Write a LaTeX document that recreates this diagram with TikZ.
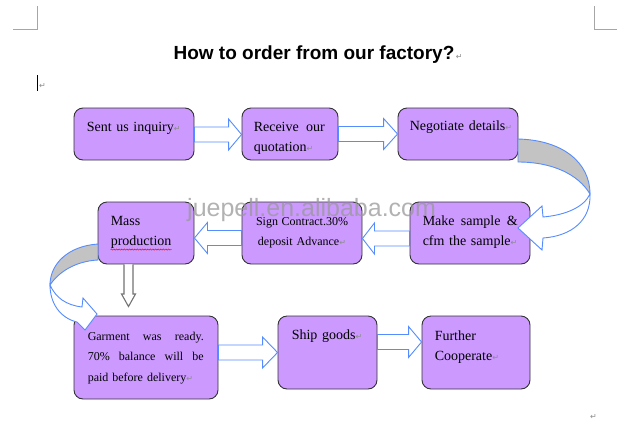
\documentclass[tikz,border=0pt]{standalone}
\usepackage{fontspec}
\setmainfont{Liberation Serif}
\newfontfamily\arialf{Liberation Sans}
\newfontfamily\djv{DejaVu Sans}
\usetikzlibrary{calc,decorations.pathmorphing}
\definecolor{boxfill}{RGB}{204,153,255}
\definecolor{arrblue}{RGB}{85,140,255}
\definecolor{backgray}{RGB}{195,195,195}
\definecolor{markgray}{RGB}{140,140,140}
\newcommand{\pmk}{{\djv\fontsize{8}{8}\selectfont\color{markgray}↵}}
\newcommand{\jline}[2]{\leavevmode\hbox to #1{#2}}
\newcommand{\hblock}[3]{%
  \draw[blockarrow] let \p1=#1, \p2=#2 in
   (\x1,\y1+7.5pt) -- (\x2-#3,\y1+7.5pt) -- (\x2-#3,\y1+15.5pt) -- (\x2,\y1)
   -- (\x2-#3,\y1-15.5pt) -- (\x2-#3,\y1-7.5pt) -- (\x1,\y1-7.5pt) -- cycle;}
\begin{document}
\begin{tikzpicture}[x=1pt,y=-1pt,
  flowbox/.style={draw=black!80, line width=0.9pt, fill=boxfill, rounded corners=9pt, inner sep=0pt},
  blockarrow/.style={draw=arrblue, line width=0.9pt, fill=white, line join=miter},
  curvearrow/.style={draw=arrblue, line width=0.9pt, line join=miter},
  btxt/.style={anchor=base west, inner sep=0pt, font=\fontsize{14}{20}\selectfont, text width=#1, align=left},
  stxt/.style={anchor=base west, inner sep=0pt, font=\fontsize{12}{20.5}\selectfont, text width=#1, align=left},
  cornermark/.style={draw=black!35, line width=0.8pt}]
\useasboundingbox (0,0) rectangle (621,421);
\fill[white] (0,0) rectangle (621,421);

% page corner marks
\draw[cornermark] (13,29) -- (37,29) -- (37,6);
\draw[cornermark] (594,6) -- (594,29) -- (617,29);

% title and cursor
\node[font=\arialf\bfseries\fontsize{19}{22}\selectfont, anchor=base, inner sep=0pt] (title) at (314,59) {How to order from our factory?};
\node[anchor=base west, inner sep=0pt] (tmark) at ($(title.base east)+(1,0)$) {\pmk};
\draw[black, line width=1.4pt] (37.5,75) -- (37.5,91);
\node[anchor=base west, inner sep=0pt] (cmark) at (39,88) {\pmk};

% boxes
\node[flowbox, minimum width=120pt, minimum height=52pt] (b1) at (134,134) {};
\node[flowbox, minimum width=96pt, minimum height=52pt] (b2) at (290,134) {};
\node[flowbox, minimum width=120pt, minimum height=52pt] (b3) at (458,134) {};
\node[flowbox, minimum width=120pt, minimum height=62pt] (b4) at (470,233) {};
\node[flowbox, minimum width=120pt, minimum height=62pt] (b5) at (302,233) {};
\node[flowbox, minimum width=96pt, minimum height=62pt] (b6) at (146,233) {};
\node[flowbox, minimum width=144pt, minimum height=83pt] (b7) at (146,357.5) {};
\node[flowbox, minimum width=99pt, minimum height=73pt] (b8) at (327.5,352.5) {};
\node[flowbox, minimum width=108pt, minimum height=73pt] (b9) at (476,352.5) {};

% straight block arrows
\hblock{($(b1.east)+(0,0.5)$)}{(b2.west)}{13pt}
\hblock{(b2.east)}{(b3.west)}{14pt}
\hblock{($(b4.west)+(0,5.5)$)}{(b5.east)}{-12pt}
\hblock{($(b5.west)+(0,5)$)}{(b6.east)}{-13pt}
\hblock{($(b7.east)+(0,-5)$)}{(b8.west)}{15pt}
\hblock{($(b8.east)+(0,-10.5)$)}{(b9.west)}{13pt}

% down arrow
\coordinate (dtip) at (128.5,306.5);
\filldraw[draw=black!55, line width=1.1pt, fill=white, line join=miter]
  let \p1=(dtip |- b6.south), \p2=(dtip) in
  (\x1-4.5pt,\y1) -- (\x1-4.5pt,\y2+12.5pt) -- (\x1-7pt,\y2+12.5pt) -- (\x2,\y2)
  -- (\x1+7pt,\y2+12.5pt) -- (\x1+4.5pt,\y2+12.5pt) -- (\x1+4.5pt,\y1);

% texts
\node[btxt=100pt] (t1) at ($(b1.north west)+(13,23.5)$) {Sent us inquiry\pmk};
\node[btxt=84pt] (t2) at ($(b2.north west)+(12,23.5)$) {\jline{71pt}{Receive\hfill our}\\quotation\pmk};
\node[btxt=104pt] (t3) at ($(b3.north west)+(12,22.5)$) {Negotiate details\pmk};
\node[btxt=104pt] (t4) at ($(b4.north west)+(13,24)$) {\jline{95pt}{Make\hfill sample\hfill \&}\\cfm the sample\pmk};
\node[anchor=base, inner sep=0pt, font=\fontsize{12}{19.7}\selectfont, text width=104pt, align=center] (t5) at ($(b5.north)+(0,24)$) {\jline{92pt}{Sign\hfill Contract.30\%}\\deposit Advance\pmk};
\node[btxt=80pt] (t6) at ($(b6.north west)+(13,24)$) {Mass\\production};
\node[stxt=124pt] (t7) at ($(b7.north west)+(14,24.5)$) {\jline{116pt}{Garment\hfill was\hfill ready.}\\\jline{116pt}{70\%\hfill balance\hfill will\hfill be}\\paid before delivery\pmk};
\node[btxt=84pt] (t8) at ($(b8.north west)+(14,23.5)$) {Ship goods\pmk};
\node[btxt=90pt] (t9) at ($(b9.north west)+(13,24.5)$) {Further\\Cooperate\pmk};

% spell-check underline
\draw[red, line width=0.5pt, decorate, decoration={snake, amplitude=0.6pt, segment length=2.6pt}]
  ($(t6.base west)+(0,24)$) -- ++(61,0);

% curved arrow 1 (Negotiate -> Make sample)
\filldraw[curvearrow, fill=backgray] (518,139) .. controls (562,140) and (590,162) .. (590,194)
  .. controls (578,174) and (552,162) .. (518,162) -- cycle;
\filldraw[curvearrow, fill=white] (590,194) .. controls (584,207) and (566,215) .. (543,217)
  -- (542,206) -- (518,228) -- (542,250) -- (543,238)
  .. controls (572,236) and (591,220) .. (590,194) -- cycle;

% curved arrow 2 (Mass production -> Garment)
\filldraw[curvearrow, fill=backgray] (98,244) .. controls (68,246) and (50,264) .. (50,285)
  .. controls (60,270) and (78,261) .. (98,260) -- cycle;
\filldraw[curvearrow, fill=white] (50,285) .. controls (56,298) and (66,305) .. (82,307)
  -- (83,298) -- (97,314) -- (85,330) -- (77,322)
  .. controls (60,318) and (50,303) .. (50,285) -- cycle;

% watermark
\node[font=\arialf\fontsize{25}{25}\selectfont, text=black!40, opacity=0.75, anchor=base west, inner sep=0pt] (wm) at (187,216.5) {juepell.en.alibaba.com};

% final paragraph mark
\node[anchor=base west, inner sep=0pt] (emark) at (590,419) {\pmk};
\end{tikzpicture}
\end{document}
